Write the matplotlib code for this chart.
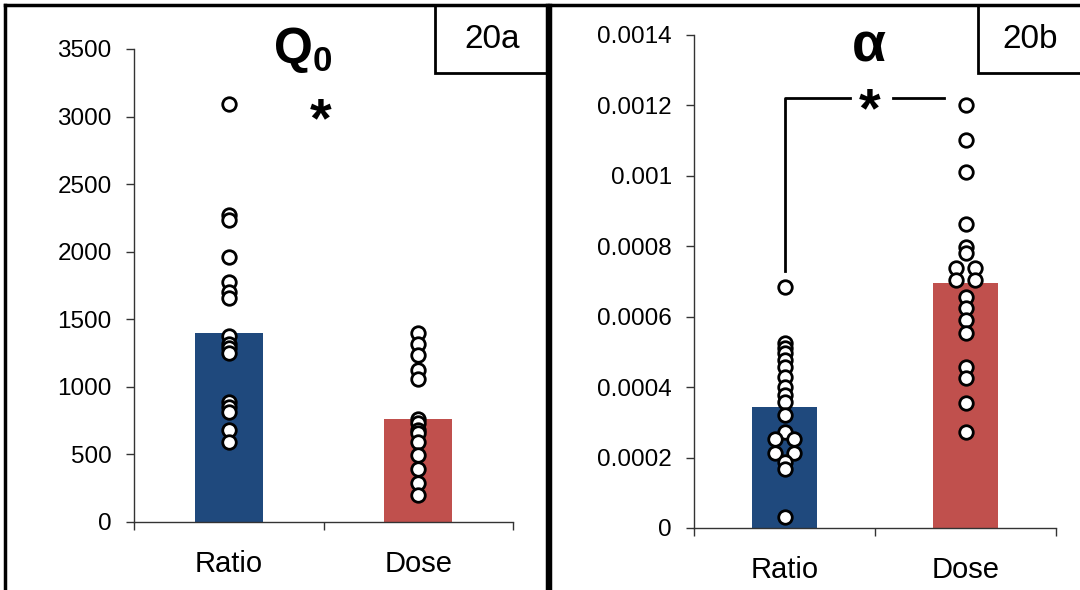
import matplotlib
matplotlib.use("Agg")
import matplotlib.pyplot as plt
from matplotlib.patches import Rectangle
from matplotlib.lines import Line2D
import numpy as np

plt.rcParams['font.family'] = ['Liberation Sans', 'DejaVu Sans']
plt.rcParams['mathtext.fontset'] = 'custom'
plt.rcParams['mathtext.rm'] = 'Liberation Sans'
plt.rcParams['mathtext.bf'] = 'Liberation Sans:bold'

groups = ['Ratio', 'Dose']

# Q0 panel
q0_means = [1400, 765]
q0_ratio = [3090, 2270, 2235, 1960, 1775, 1700, 1655, 1375, 1320, 1285, 1250,
            890, 850, 815, 680, 590]
q0_dose = [1395, 1320, 1235, 1125, 1060, 765, 730, 680, 655, 595, 495, 395, 285, 200]
q0_ticks = [0, 500, 1000, 1500, 2000, 2500, 3000, 3500]

# alpha panel
alpha_means = [0.000345, 0.000695]
alpha_ratio = [0.000685, 0.000524, 0.000510, 0.000496, 0.000477, 0.000458, 0.000430,
               0.000401, 0.000378, 0.000359, 0.000321, 0.000274, 0.000252, 0.000252,
               0.000214, 0.000214, 0.000186, 0.000167, 0.000032]
alpha_dose = [0.001201, 0.001102, 0.001012, 0.000863, 0.000799, 0.000780, 0.000738,
              0.000738, 0.000704, 0.000704, 0.000657, 0.000624, 0.000591, 0.000553,
              0.000458, 0.000425, 0.000354, 0.000274]
alpha_ticks = [0, 0.0002, 0.0004, 0.0006, 0.0008, 0.001, 0.0012, 0.0014]
alpha_ticklabels = ['0', '0.0002', '0.0004', '0.0006', '0.0008', '0.001', '0.0012', '0.0014']

bar_colors = ['#1F497D', '#C0504D']


def spread(values, step=0.05):
    # points sharing a value sit side by side
    vals = np.array(values)
    offs = np.zeros(len(vals))
    for v in np.unique(vals):
        idx = np.where(vals == v)[0]
        if len(idx) > 1:
            offs[idx] = (np.arange(len(idx)) - (len(idx) - 1) / 2) * 2 * step
    return offs


def draw_panel(ax, means, series, ticks, ticklabels=None, xpad=20):
    x = np.arange(len(groups))
    ax.bar(x, means, width=0.36, color=bar_colors, edgecolor='none', zorder=1)
    for i, vals in enumerate(series):
        ax.scatter(x[i] + spread(vals), vals, s=95, facecolor='white',
                   edgecolor='black', linewidth=2, zorder=3, clip_on=False)
    ax.set_xlim(-0.5, 1.5)
    ax.set_ylim(ticks[0], ticks[-1])
    ax.set_yticks(ticks)
    if ticklabels is not None:
        ax.set_yticklabels(ticklabels)
    ax.set_xticks([-0.5, 0.5, 1.5], minor=False)
    ax.set_xticklabels([])
    ax.set_xticks(x, minor=True)
    ax.set_xticklabels(groups, minor=True)
    ax.tick_params(axis='x', which='minor', length=0, pad=xpad, labelsize=21)
    ax.tick_params(axis='x', which='major', length=6, width=1, color='#333333')
    ax.tick_params(axis='y', length=6, width=1, color='#333333', labelsize=17.5, pad=10)
    for s in ['top', 'right']:
        ax.spines[s].set_visible(False)
    for s in ['left', 'bottom']:
        ax.spines[s].set_color('#333333')
        ax.spines[s].set_linewidth(1)


fig = plt.figure(figsize=(10.8, 5.9), dpi=100)

ax1 = fig.add_axes([0.1241, 0.1153, 0.3509, 0.8017])
draw_panel(ax1, q0_means, [q0_ratio, q0_dose], q0_ticks, xpad=20)
ax1.annotate('*', (0.5, 3080), xytext=(-2, -12), textcoords='offset points',
             ha='center', va='center', fontsize=40, fontweight='bold')

ax2 = fig.add_axes([0.6426, 0.1051, 0.3352, 0.8356])
draw_panel(ax2, alpha_means, [alpha_ratio, alpha_dose], alpha_ticks, alpha_ticklabels,
           xpad=20)
# significance bracket
ax2.plot([0, 0, 0.36], [0.00073, 0.00122, 0.00122], color='black', lw=2)
ax2.plot([0.6, 0.88], [0.00122, 0.00122], color='black', lw=2)
ax2.annotate('*', (0.5, 0.00122), xytext=(-4, -10), textcoords='offset points',
             ha='center', va='center', fontsize=40, fontweight='bold')

# titles
fig.text(303 / 1080, 1 - 50 / 590, r'$\mathbf{Q_0}$', ha='center', va='center', fontsize=36)
fig.text(869 / 1080, 1 - 48 / 590, 'α', ha='center', va='center', fontsize=40,
         fontweight='bold')

W, H = 1080, 590


def fx(px):
    return px / W


def fy(py):
    return 1 - py / H


# panel frames
frame = dict(color='black', lw=2.5, transform=fig.transFigure)
fig.add_artist(Line2D([fx(5), fx(5)], [0, fy(5)], **frame))
fig.add_artist(Line2D([fx(5), fx(547)], [fy(5), fy(5)], **frame))
fig.add_artist(Line2D([fx(547), fx(547)], [0, fy(5)], **frame))
fig.add_artist(Line2D([fx(550), fx(550)], [0, fy(5)], **frame))
fig.add_artist(Line2D([fx(550), 1], [fy(5), fy(5)], **frame))

# panel labels
for x0, x1, label in [(435, 547, '20a'), (978, 1085, '20b')]:
    fig.add_artist(Rectangle((fx(x0), fy(73)), fx(x1) - fx(x0), fy(5) - fy(73),
                             facecolor='white', edgecolor='black', lw=2,
                             transform=fig.transFigure))
    fig.text(fx((x0 + min(x1, 1080)) / 2 + 1), fy(39), label, ha='center', va='center',
             fontsize=24)

fig.savefig('out.png', dpi=100)
